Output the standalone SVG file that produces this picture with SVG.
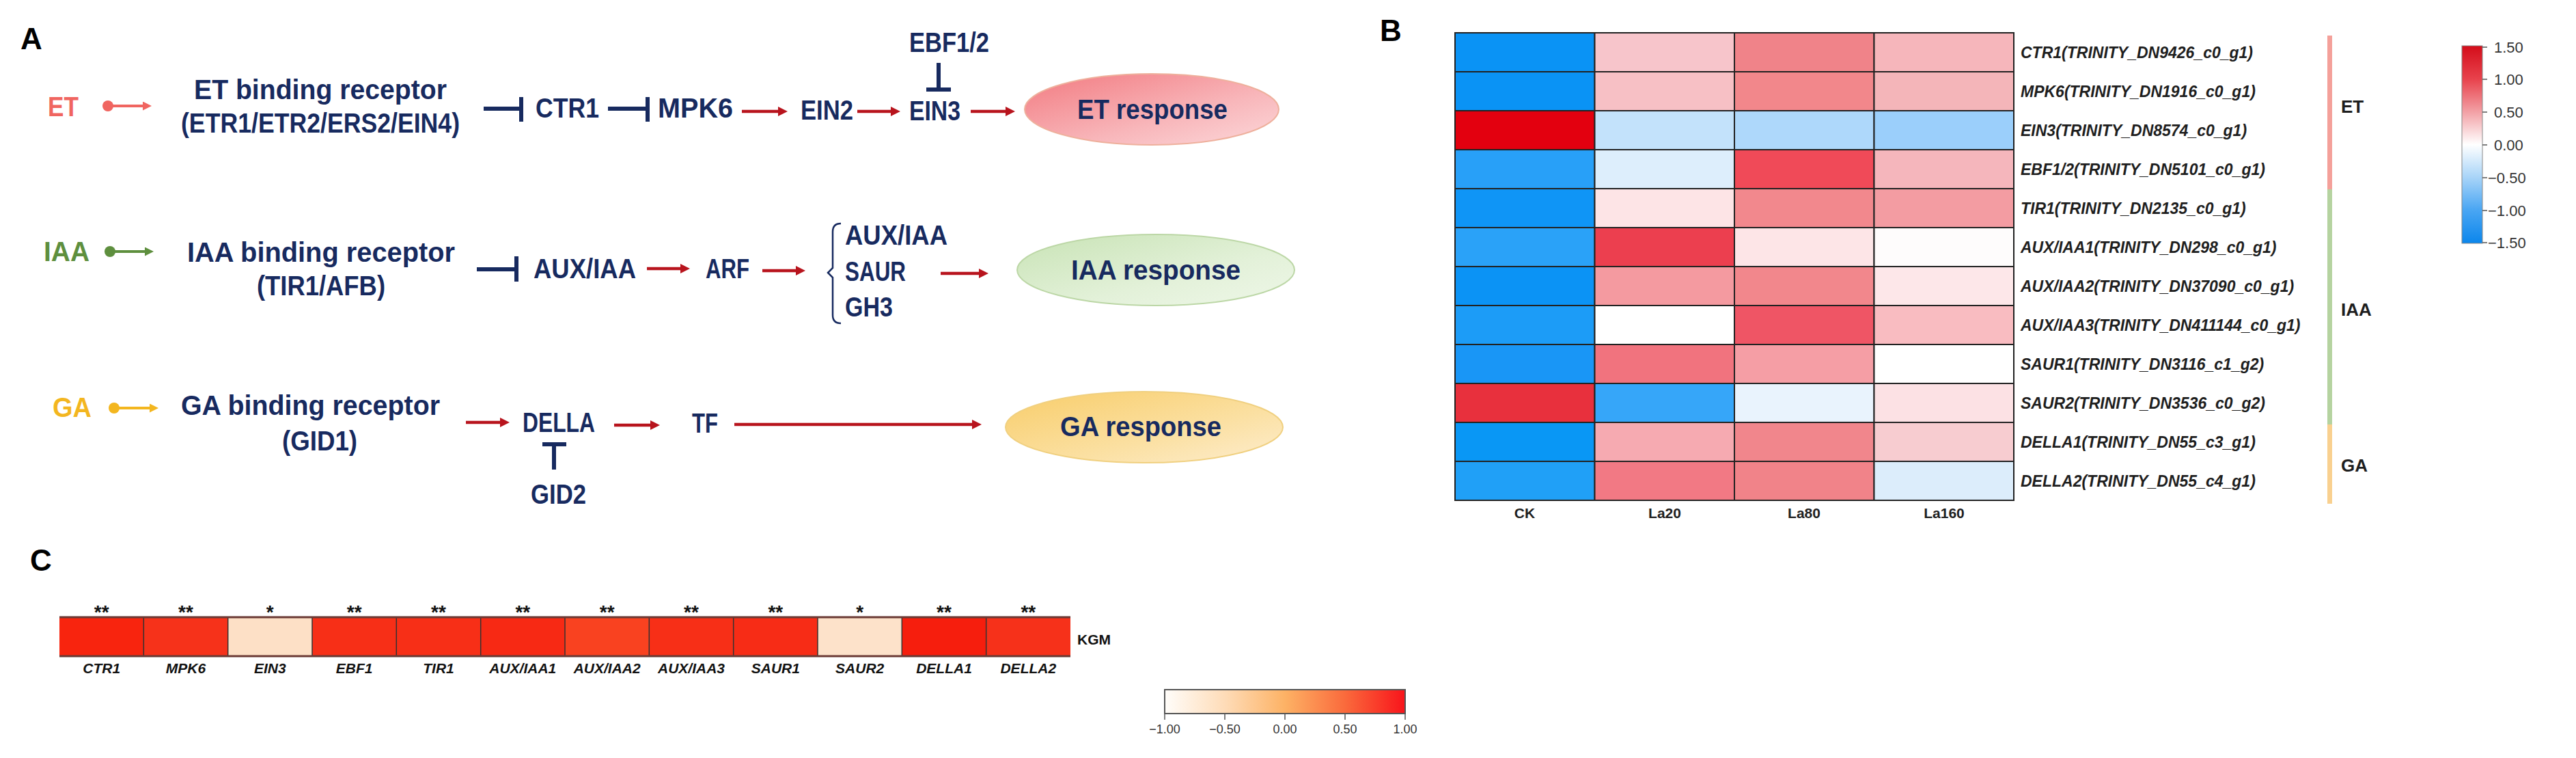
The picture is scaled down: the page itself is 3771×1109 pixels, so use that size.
<svg xmlns="http://www.w3.org/2000/svg" width="3771" height="1109" viewBox="0 0 3771 1109">
<style>
.n{font-family:"Liberation Sans",Arial,sans-serif;font-weight:bold;fill:#172a5f;font-size:40px}
.pl{font-family:"Liberation Sans",Arial,sans-serif;font-weight:bold;fill:#000;font-size:44px}
.rl{font-family:"Liberation Sans",Arial,sans-serif;font-weight:bold;font-style:italic;fill:#1e1e1e;font-size:23px}
.gl{font-family:"Liberation Sans",Arial,sans-serif;font-weight:bold;fill:#1e1e1e;font-size:26px}
.cl{font-family:"Liberation Sans",Arial,sans-serif;font-weight:bold;fill:#1e1e1e;font-size:21px;text-anchor:middle}
.tk{font-family:"Liberation Sans",Arial,sans-serif;fill:#333;font-size:22px}
.st{font-family:"Liberation Sans",Arial,sans-serif;font-weight:bold;fill:#111;font-size:28px;text-anchor:middle}
.cx{font-family:"Liberation Sans",Arial,sans-serif;font-weight:bold;font-style:italic;fill:#111;font-size:21px;text-anchor:middle}
.lt{font-family:"Liberation Sans",Arial,sans-serif;fill:#333;font-size:18px;text-anchor:middle}
.red{stroke:#b8141d;stroke-width:4.5;fill:none;marker-end:url(#aR)}
.inh{stroke:#172a5f;stroke-width:6;fill:none}
.cell{stroke:#222;stroke-width:2}
</style>
<defs>
<marker id="aR" markerUnits="userSpaceOnUse" markerWidth="14" markerHeight="14" refX="2" refY="7" orient="auto"><path d="M0,0 L14,7 L0,14 z" fill="#b8141d"/></marker>
<marker id="aE" markerUnits="userSpaceOnUse" markerWidth="13" markerHeight="13" refX="2" refY="6.5" orient="auto"><path d="M0,0 L13,6.5 L0,13 z" fill="#f06560"/></marker>
<marker id="aI" markerUnits="userSpaceOnUse" markerWidth="13" markerHeight="13" refX="2" refY="6.5" orient="auto"><path d="M0,0 L13,6.5 L0,13 z" fill="#5e8f3e"/></marker>
<marker id="aG" markerUnits="userSpaceOnUse" markerWidth="13" markerHeight="13" refX="2" refY="6.5" orient="auto"><path d="M0,0 L13,6.5 L0,13 z" fill="#f3b61f"/></marker>
<linearGradient id="gET" x1="0" y1="0" x2="1" y2="1"><stop offset="0" stop-color="#f27a80"/><stop offset="0.6" stop-color="#f8b6ba"/><stop offset="1" stop-color="#fcd8da"/></linearGradient>
<linearGradient id="gIAA" x1="0" y1="0" x2="1" y2="1"><stop offset="0" stop-color="#c8e3b5"/><stop offset="0.6" stop-color="#e3f1d9"/><stop offset="1" stop-color="#eef7e8"/></linearGradient>
<linearGradient id="gGA" x1="0" y1="0" x2="1" y2="1"><stop offset="0" stop-color="#f8cd6a"/><stop offset="0.6" stop-color="#fbe0a2"/><stop offset="1" stop-color="#fdedce"/></linearGradient>
<linearGradient id="gB" x1="0" y1="0" x2="0" y2="1"><stop offset="0" stop-color="#d40d1a"/><stop offset="0.17" stop-color="#e8434d"/><stop offset="0.33" stop-color="#f29ea3"/><stop offset="0.5" stop-color="#ffffff"/><stop offset="0.67" stop-color="#a6d3f8"/><stop offset="0.83" stop-color="#4aa6f3"/><stop offset="1" stop-color="#0b86ec"/></linearGradient>
<linearGradient id="gC" x1="0" y1="0" x2="1" y2="0"><stop offset="0" stop-color="#fffdfa"/><stop offset="0.25" stop-color="#fedcb8"/><stop offset="0.5" stop-color="#fdb265"/><stop offset="0.75" stop-color="#fa6a3c"/><stop offset="1" stop-color="#f8141b"/></linearGradient>
</defs>
<rect width="3771" height="1109" fill="#fff"/>

<!-- Panel A -->
<text class="pl" x="30" y="72">A</text>

<g id="n-ET"><text class="n" x="70" y="170" textLength="45" lengthAdjust="spacingAndGlyphs" style="fill:#f06560">ET</text></g>
<g id="n-ETrec"><text class="n" x="284" y="145" textLength="370" lengthAdjust="spacingAndGlyphs">ET binding receptor</text><text class="n" x="265" y="194" textLength="408" lengthAdjust="spacingAndGlyphs">(ETR1/ETR2/ERS2/EIN4)</text></g>
<g id="n-CTR1"><text class="n" x="784" y="172" textLength="93" lengthAdjust="spacingAndGlyphs">CTR1</text></g>
<g id="n-MPK6"><text class="n" x="963" y="172" textLength="110" lengthAdjust="spacingAndGlyphs">MPK6</text></g>
<g id="n-EIN2"><text class="n" x="1172" y="175" textLength="77" lengthAdjust="spacingAndGlyphs">EIN2</text></g>
<g id="n-EIN3"><text class="n" x="1331" y="176" textLength="75" lengthAdjust="spacingAndGlyphs">EIN3</text></g>
<g id="n-EBF"><text class="n" x="1331" y="76" textLength="117" lengthAdjust="spacingAndGlyphs">EBF1/2</text></g>
<g id="n-ETresp"><ellipse cx="1686" cy="160" rx="186" ry="52" fill="url(#gET)" stroke="#eeb09c" stroke-width="2"/><text class="n" x="1577" y="174" textLength="220" lengthAdjust="spacingAndGlyphs">ET response</text></g>

<g id="n-IAA"><text class="n" x="64" y="382" textLength="67" lengthAdjust="spacingAndGlyphs" style="fill:#5e8f3e">IAA</text></g>
<g id="n-IAArec"><text class="n" x="274" y="383" textLength="392" lengthAdjust="spacingAndGlyphs">IAA binding receptor</text><text class="n" x="376" y="432" textLength="188" lengthAdjust="spacingAndGlyphs">(TIR1/AFB)</text></g>
<g id="n-AUX"><text class="n" x="781" y="407" textLength="150" lengthAdjust="spacingAndGlyphs">AUX/IAA</text></g>
<g id="n-ARF"><text class="n" x="1033" y="407" textLength="64" lengthAdjust="spacingAndGlyphs">ARF</text></g>
<g id="n-targets"><path d="M1231,327 Q1219,327 1219,339 V392 L1212,399 L1219,406 V461 Q1219,473 1231,473" fill="none" stroke="#172a5f" stroke-width="2.5"/><text class="n" x="1237" y="358" textLength="150" lengthAdjust="spacingAndGlyphs">AUX/IAA</text><text class="n" x="1237" y="411" textLength="89" lengthAdjust="spacingAndGlyphs">SAUR</text><text class="n" x="1237" y="463" textLength="70" lengthAdjust="spacingAndGlyphs">GH3</text></g>
<g id="n-IAAresp"><ellipse cx="1692" cy="395" rx="203" ry="52" fill="url(#gIAA)" stroke="#bcd7a6" stroke-width="2"/><text class="n" x="1568" y="409" textLength="248" lengthAdjust="spacingAndGlyphs">IAA response</text></g>

<g id="n-GA"><text class="n" x="77" y="610" textLength="57" lengthAdjust="spacingAndGlyphs" style="fill:#f3b61f">GA</text></g>
<g id="n-GArec"><text class="n" x="265" y="607" textLength="379" lengthAdjust="spacingAndGlyphs">GA binding receptor</text><text class="n" x="413" y="659" textLength="110" lengthAdjust="spacingAndGlyphs">(GID1)</text></g>
<g id="n-DELLA"><text class="n" x="765" y="632" textLength="106" lengthAdjust="spacingAndGlyphs">DELLA</text></g>
<g id="n-GID2"><text class="n" x="777" y="737" textLength="81" lengthAdjust="spacingAndGlyphs">GID2</text></g>
<g id="n-TF"><text class="n" x="1013" y="633" textLength="38" lengthAdjust="spacingAndGlyphs">TF</text></g>
<g id="n-GAresp"><ellipse cx="1675" cy="625" rx="203" ry="52" fill="url(#gGA)" stroke="#f0d080" stroke-width="2"/><text class="n" x="1552" y="638" textLength="236" lengthAdjust="spacingAndGlyphs">GA response</text></g>

<g id="connectors">
<circle cx="158" cy="155" r="8" fill="#f06560"/><path d="M158,155 H211" stroke="#f06560" stroke-width="4" marker-end="url(#aE)"/>
<circle cx="161" cy="368" r="8" fill="#5e8f3e"/><path d="M161,368 H214" stroke="#5e8f3e" stroke-width="4" marker-end="url(#aI)"/>
<circle cx="167" cy="597" r="8" fill="#f3b61f"/><path d="M167,597 H221" stroke="#f3b61f" stroke-width="4" marker-end="url(#aG)"/>
<path class="inh" d="M708,159 H763 M763,142 V178"/>
<path class="inh" d="M890,159 H948 M948,142 V178"/>
<path class="inh" d="M1374,92 V130 M1356,131 H1392"/>
<path class="inh" d="M698,394 H756 M756,375 V412"/>
<path class="inh" d="M794,650 H829 M811,650 V687"/>
<path class="red" d="M1086,163 H1141"/>
<path class="red" d="M1255,163 H1306"/>
<path class="red" d="M1421,163 H1474"/>
<path class="red" d="M947,393 H998"/>
<path class="red" d="M1116,396 H1167"/>
<path class="red" d="M1377,400 H1435"/>
<path class="red" d="M682,618 H734"/>
<path class="red" d="M899,622 H954"/>
<path class="red" d="M1075,621 H1425"/>
</g>

<!-- Panel B -->
<text class="pl" x="2020" y="60">B</text>
<g id="heatmap">
<g id="hm-r1"><rect class="cell" x="2130" y="48" width="204.5" height="57" fill="#0a93f5"/><rect class="cell" x="2334.5" y="48" width="204.5" height="57" fill="#f7c5cb"/><rect class="cell" x="2539" y="48" width="204.5" height="57" fill="#f08389"/><rect class="cell" x="2743.5" y="48" width="204.5" height="57" fill="#f6b6bb"/></g>
<g id="hm-r2"><rect class="cell" x="2130" y="105" width="204.5" height="57" fill="#0a93f5"/><rect class="cell" x="2334.5" y="105" width="204.5" height="57" fill="#f7c0c5"/><rect class="cell" x="2539" y="105" width="204.5" height="57" fill="#f2878b"/><rect class="cell" x="2743.5" y="105" width="204.5" height="57" fill="#f4b5b9"/></g>
<g id="hm-r3"><rect class="cell" x="2130" y="162" width="204.5" height="57" fill="#e3000f"/><rect class="cell" x="2334.5" y="162" width="204.5" height="57" fill="#c3e2fb"/><rect class="cell" x="2539" y="162" width="204.5" height="57" fill="#aed8fb"/><rect class="cell" x="2743.5" y="162" width="204.5" height="57" fill="#9bcffb"/></g>
<g id="hm-r4"><rect class="cell" x="2130" y="219" width="204.5" height="57" fill="#28a0f8"/><rect class="cell" x="2334.5" y="219" width="204.5" height="57" fill="#ddeefc"/><rect class="cell" x="2539" y="219" width="204.5" height="57" fill="#f04a58"/><rect class="cell" x="2743.5" y="219" width="204.5" height="57" fill="#f5b6bc"/></g>
<g id="hm-r5"><rect class="cell" x="2130" y="276" width="204.5" height="57" fill="#0f95f6"/><rect class="cell" x="2334.5" y="276" width="204.5" height="57" fill="#fde4e6"/><rect class="cell" x="2539" y="276" width="204.5" height="57" fill="#f2888d"/><rect class="cell" x="2743.5" y="276" width="204.5" height="57" fill="#f39ca2"/></g>
<g id="hm-r6"><rect class="cell" x="2130" y="333" width="204.5" height="57" fill="#2aa2f8"/><rect class="cell" x="2334.5" y="333" width="204.5" height="57" fill="#ec3f4f"/><rect class="cell" x="2539" y="333" width="204.5" height="57" fill="#fde5e7"/><rect class="cell" x="2743.5" y="333" width="204.5" height="57" fill="#fefcfc"/></g>
<g id="hm-r7"><rect class="cell" x="2130" y="390" width="204.5" height="57" fill="#0b93f5"/><rect class="cell" x="2334.5" y="390" width="204.5" height="57" fill="#f49aa0"/><rect class="cell" x="2539" y="390" width="204.5" height="57" fill="#f2878c"/><rect class="cell" x="2743.5" y="390" width="204.5" height="57" fill="#fde7e9"/></g>
<g id="hm-r8"><rect class="cell" x="2130" y="447" width="204.5" height="57" fill="#1c9cf7"/><rect class="cell" x="2334.5" y="447" width="204.5" height="57" fill="#ffffff"/><rect class="cell" x="2539" y="447" width="204.5" height="57" fill="#ef5565"/><rect class="cell" x="2743.5" y="447" width="204.5" height="57" fill="#f9bcc1"/></g>
<g id="hm-r9"><rect class="cell" x="2130" y="504" width="204.5" height="57" fill="#1996f6"/><rect class="cell" x="2334.5" y="504" width="204.5" height="57" fill="#f1737e"/><rect class="cell" x="2539" y="504" width="204.5" height="57" fill="#f59ea5"/><rect class="cell" x="2743.5" y="504" width="204.5" height="57" fill="#ffffff"/></g>
<g id="hm-r10"><rect class="cell" x="2130" y="561" width="204.5" height="57" fill="#e8303d"/><rect class="cell" x="2334.5" y="561" width="204.5" height="57" fill="#36a6f9"/><rect class="cell" x="2539" y="561" width="204.5" height="57" fill="#e9f3fd"/><rect class="cell" x="2743.5" y="561" width="204.5" height="57" fill="#fce1e4"/></g>
<g id="hm-r11"><rect class="cell" x="2130" y="618" width="204.5" height="57" fill="#0997f5"/><rect class="cell" x="2334.5" y="618" width="204.5" height="57" fill="#f6aab1"/><rect class="cell" x="2539" y="618" width="204.5" height="57" fill="#f1868c"/><rect class="cell" x="2743.5" y="618" width="204.5" height="57" fill="#f7ccd0"/></g>
<g id="hm-r12"><rect class="cell" x="2130" y="675" width="204.5" height="57" fill="#20a0f7"/><rect class="cell" x="2334.5" y="675" width="204.5" height="57" fill="#f27984"/><rect class="cell" x="2539" y="675" width="204.5" height="57" fill="#f18389"/><rect class="cell" x="2743.5" y="675" width="204.5" height="57" fill="#dcedfb"/></g>
</g>
<g id="hm-rowlabels">
<text class="rl" x="2958" y="85">CTR1(TRINITY_DN9426_c0_g1)</text>
<text class="rl" x="2958" y="142">MPK6(TRINITY_DN1916_c0_g1)</text>
<text class="rl" x="2958" y="199">EIN3(TRINITY_DN8574_c0_g1)</text>
<text class="rl" x="2958" y="256">EBF1/2(TRINITY_DN5101_c0_g1)</text>
<text class="rl" x="2958" y="313">TIR1(TRINITY_DN2135_c0_g1)</text>
<text class="rl" x="2958" y="370">AUX/IAA1(TRINITY_DN298_c0_g1)</text>
<text class="rl" x="2958" y="427">AUX/IAA2(TRINITY_DN37090_c0_g1)</text>
<text class="rl" x="2958" y="484">AUX/IAA3(TRINITY_DN411144_c0_g1)</text>
<text class="rl" x="2958" y="541">SAUR1(TRINITY_DN3116_c1_g2)</text>
<text class="rl" x="2958" y="598">SAUR2(TRINITY_DN3536_c0_g2)</text>
<text class="rl" x="2958" y="655">DELLA1(TRINITY_DN55_c3_g1)</text>
<text class="rl" x="2958" y="712">DELLA2(TRINITY_DN55_c4_g1)</text>
</g>
<g id="hm-collabels">
<text class="cl" x="2232" y="758">CK</text>
<text class="cl" x="2437" y="758">La20</text>
<text class="cl" x="2641" y="758">La80</text>
<text class="cl" x="2846" y="758">La160</text>
</g>
<g id="hm-groups">
<rect x="3407" y="52" width="7" height="225" fill="#f4a09a"/>
<rect x="3407" y="277" width="7" height="344" fill="#b5d3a0"/>
<rect x="3407" y="621" width="7" height="116" fill="#f9d08f"/>
<text class="gl" x="3427" y="165">ET</text>
<text class="gl" x="3427" y="462">IAA</text>
<text class="gl" x="3427" y="690">GA</text>
</g>
<g id="hm-legend">
<rect x="3604" y="67" width="30" height="289" fill="url(#gB)" stroke="#888" stroke-width="1"/>
<path d="M3634,69 h7 M3634,116 h7 M3634,164 h7 M3634,212 h7 M3634,260 h7 M3634,308 h7 M3634,355 h7" stroke="#555" stroke-width="1.5"/>
<text class="tk" x="3651" y="77">1.50</text>
<text class="tk" x="3651" y="124">1.00</text>
<text class="tk" x="3651" y="172">0.50</text>
<text class="tk" x="3651" y="220">0.00</text>
<text class="tk" x="3642" y="268">−0.50</text>
<text class="tk" x="3642" y="316">−1.00</text>
<text class="tk" x="3642" y="363">−1.50</text>
</g>

<!-- Panel C -->
<text class="pl" x="44" y="835">C</text>
<g id="kgm-bar">
<rect x="87" y="903" width="123.3" height="57" fill="#f8240e"/>
<rect x="210.3" y="903" width="123.3" height="57" fill="#f6321a"/>
<rect x="333.7" y="903" width="123.3" height="57" fill="#fde0c6"/>
<rect x="457" y="903" width="123.3" height="57" fill="#f72f17"/>
<rect x="580.3" y="903" width="123.3" height="57" fill="#f72f17"/>
<rect x="703.7" y="903" width="123.3" height="57" fill="#f72914"/>
<rect x="827" y="903" width="123.3" height="57" fill="#f94220"/>
<rect x="950.3" y="903" width="123.3" height="57" fill="#f72f17"/>
<rect x="1073.7" y="903" width="123.3" height="57" fill="#f72c16"/>
<rect x="1197" y="903" width="123.3" height="57" fill="#fde2ca"/>
<rect x="1320.3" y="903" width="123.3" height="57" fill="#f61e0d"/>
<rect x="1443.7" y="903" width="123.3" height="57" fill="#f6311a"/>
<path d="M210.3,903 V960 M333.7,903 V960 M457,903 V960 M580.3,903 V960 M703.7,903 V960 M827,903 V960 M950.3,903 V960 M1073.7,903 V960 M1197,903 V960 M1320.3,903 V960 M1443.7,903 V960" stroke="#333" stroke-width="1.5"/>
<path d="M87,903 H1567 M87,960 H1567" stroke="#6b3a35" stroke-width="3"/>
</g>
<g id="kgm-stars">
<text class="st" x="148.7" y="905">**</text>
<text class="st" x="272" y="905">**</text>
<text class="st" x="395.3" y="905">*</text>
<text class="st" x="518.7" y="905">**</text>
<text class="st" x="642" y="905">**</text>
<text class="st" x="765.3" y="905">**</text>
<text class="st" x="888.7" y="905">**</text>
<text class="st" x="1012" y="905">**</text>
<text class="st" x="1135.3" y="905">**</text>
<text class="st" x="1258.7" y="905">*</text>
<text class="st" x="1382" y="905">**</text>
<text class="st" x="1505.3" y="905">**</text>
</g>
<g id="kgm-labels">
<text class="cx" x="148.7" y="985">CTR1</text>
<text class="cx" x="272" y="985">MPK6</text>
<text class="cx" x="395.3" y="985">EIN3</text>
<text class="cx" x="518.7" y="985">EBF1</text>
<text class="cx" x="642" y="985">TIR1</text>
<text class="cx" x="765.3" y="985">AUX/IAA1</text>
<text class="cx" x="888.7" y="985">AUX/IAA2</text>
<text class="cx" x="1012" y="985">AUX/IAA3</text>
<text class="cx" x="1135.3" y="985">SAUR1</text>
<text class="cx" x="1258.7" y="985">SAUR2</text>
<text class="cx" x="1382" y="985">DELLA1</text>
<text class="cx" x="1505.3" y="985">DELLA2</text>
<text x="1577" y="943" style="font-family:'Liberation Sans',Arial,sans-serif;font-weight:bold;font-size:21px;fill:#111">KGM</text>
</g>
<g id="kgm-legend">
<rect x="1705" y="1009" width="352" height="35" fill="url(#gC)" stroke="#555" stroke-width="2"/>
<path d="M1705,1044 V1053 M1793,1044 V1053 M1881,1044 V1053 M1969,1044 V1053 M2057,1044 V1053" stroke="#555" stroke-width="1.5"/>
<text class="lt" x="1705" y="1073">−1.00</text>
<text class="lt" x="1793" y="1073">−0.50</text>
<text class="lt" x="1881" y="1073">0.00</text>
<text class="lt" x="1969" y="1073">0.50</text>
<text class="lt" x="2057" y="1073">1.00</text>
</g>
</svg>
